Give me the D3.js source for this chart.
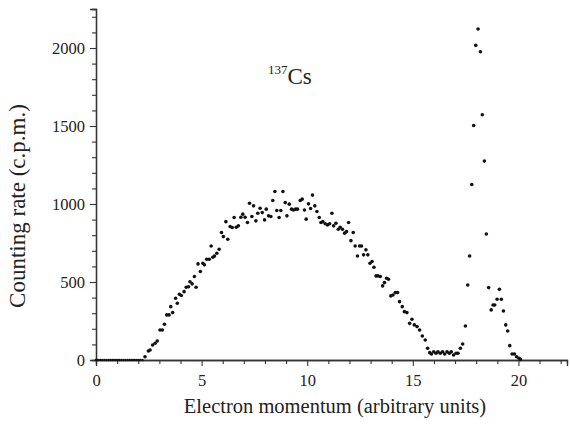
<!DOCTYPE html>
<html>
<head>
<meta charset="utf-8">
<script src="https://cdn.jsdelivr.net/npm/d3@7"></script>
<style>
  html, body { margin: 0; padding: 0; background: #fff; }
  svg { display: block; }
</style>
</head>
<body>
<svg id="chart" width="570" height="424"></svg>
<script>
// ---- Data ----
const baselineMomentum = [0,0.1,0.2,0.3,0.4,0.5,0.6,0.7,0.8,0.9,1.0,1.1,1.2,1.3,1.4,1.5,1.6,1.7,1.8,1.9,2.0,2.1,2.2];
const momentum = [
  2.32,2.48,2.56,2.68,2.8,2.9,3.03,3.14,3.24,3.35,3.46,3.54,3.63,3.77,3.85,3.95,4.04,4.17,4.27,4.38,
  4.45,4.55,4.66,4.74,4.83,4.94,5.06,5.13,5.24,5.36,5.45,5.53,5.61,5.72,5.83,5.94,6.03,6.15,6.24,6.35,
  6.45,6.54,6.64,6.74,6.86,6.95,7.06,7.17,7.27,7.38,7.46,7.57,7.66,7.77,7.87,7.98,8.06,8.17,8.28,8.37,
  8.47,8.56,8.67,8.75,8.85,8.96,9.04,9.15,9.26,9.35,9.45,9.54,9.67,9.76,9.87,9.95,10.06,10.16,10.25,10.36,
  10.46,10.57,10.65,10.74,10.85,10.96,11.06,11.17,11.25,11.36,11.47,11.56,11.67,11.77,11.86,11.96,12.07,12.18,12.27,12.38,
  12.48,12.57,12.67,12.78,12.87,12.97,13.07,13.16,13.26,13.35,13.46,13.57,13.66,13.76,13.85,13.96,14.06,14.17,14.28,14.37,
  14.5,14.6,14.72,14.85,14.96,15.07,15.2,15.32,15.45,15.59,15.7,15.8,15.88,15.99,16.1,16.19,16.3,16.41,16.51,16.62,
  16.73,16.82,16.93,17.05,17.14,17.25,17.36,17.49,17.6,17.69,17.79,17.88,17.98,18.09,18.2,18.29,18.39,18.48,18.59,18.71,
  18.8,18.88,18.99,19.1,19.19,19.29,19.4,19.49,19.59,19.7,19.81,19.91,20.03,20.09
];
const countRate = [
  21,58,64,96,107,122,192,192,229,289,289,342,304,396,364,421,413,438,466,470,
  502,488,535,466,616,567,620,610,646,646,731,659,667,684,710,817,791,887,774,855,
  849,913,851,860,915,935,915,881,1005,920,988,892,941,973,945,898,967,924,920,1022,
  1080,958,913,958,1080,1009,924,999,967,962,967,967,1022,1031,962,903,1001,971,1057,988,
  952,913,881,887,873,866,873,941,860,877,838,851,838,813,823,881,765,817,731,667,
  731,731,674,706,674,620,631,595,539,539,535,475,496,524,518,411,417,432,432,374,
  342,310,304,235,261,225,214,192,154,128,75,47,38,53,43,53,43,53,38,53,
  43,53,32,43,43,75,103,218,481,667,1125,1503,2017,2122,1976,1572,1275,808,464,321,
  353,353,389,453,389,314,225,186,92,38,38,21,11,4
];
const xTicks = [0, 5, 10, 15, 20];
const yTicks = [0, 500, 1000, 1500, 2000];
const xLabel = "Electron momentum (arbitrary units)";
const yLabel = "Counting rate (c.p.m.)";

// ---- Chart ----
const FONT = '"Liberation Serif", "Times New Roman", Times, serif';
const svg = d3.select("#chart");
const x = d3.scaleLinear().domain([0, 22.3]).range([96, 567]);
const y = d3.scaleLinear().domain([0, 2250]).range([360, 9]);

const xMinor = d3.range(0, 23, 1).filter(v => v % 5 !== 0);
const yMinor = d3.range(0, 2250, 100).filter(v => v % 500 !== 0);

function styleAxis(g) {
  g.attr("font-family", FONT);
  g.selectAll(".domain").attr("stroke", "#333").attr("stroke-width", 1.3);
  g.selectAll(".tick line").attr("stroke", "#333").attr("stroke-width", 1.1);
  g.selectAll(".tick text")
    .attr("font-family", FONT)
    .style("font-family", FONT)
    .style("font-size", "16.5px")
    .attr("fill", "#222");
}

const gx = svg.append("g").attr("transform", `translate(0,${y(0)})`);
gx.call(d3.axisBottom(x).tickValues(xMinor).tickSize(4).tickFormat(""));
gx.append("g").call(d3.axisBottom(x).tickValues(xTicks).tickSize(6).tickPadding(8).tickFormat(d3.format("d")));
styleAxis(gx);

const gy = svg.append("g").attr("transform", `translate(${x(0)},0)`);
gy.call(d3.axisLeft(y).tickValues(yMinor).tickSize(4).tickFormat(""));
gy.append("g").call(d3.axisLeft(y).tickValues(yTicks).tickSize(6).tickPadding(5).tickFormat(d3.format("d")));
styleAxis(gy);

// baseline points (dense, look like a line)
svg.append("g").selectAll("circle")
  .data(baselineMomentum)
  .join("circle")
  .attr("cx", d => x(d))
  .attr("cy", y(0))
  .attr("r", 1.2)
  .attr("fill", "#111");

// data points
svg.append("g").selectAll("circle")
  .data(momentum.map((m, i) => [m, countRate[i]]))
  .join("circle")
  .attr("cx", d => x(d[0]))
  .attr("cy", d => y(d[1]))
  .attr("r", 1.8)
  .attr("fill", "#111");

// axis labels
svg.append("text")
  .attr("x", 335).attr("y", 413)
  .attr("text-anchor", "middle")
  .style("font-family", FONT)
  .style("font-size", "20.5px")
  .attr("fill", "#222")
  .text(xLabel);

svg.append("text")
  .attr("transform", `translate(25,206) rotate(-90)`)
  .attr("text-anchor", "middle")
  .style("font-family", FONT)
  .style("font-size", "23px")
  .attr("fill", "#222")
  .text(yLabel);

// isotope annotation
const ann = svg.append("text").attr("x", 268).attr("y", 84)
  .style("font-family", FONT).style("font-size", "23px").attr("fill", "#222");
ann.append("tspan").attr("dy", -10).style("font-size", "13px").text("137");
ann.append("tspan").attr("dy", 10).text("Cs");
</script>
</body>
</html>
